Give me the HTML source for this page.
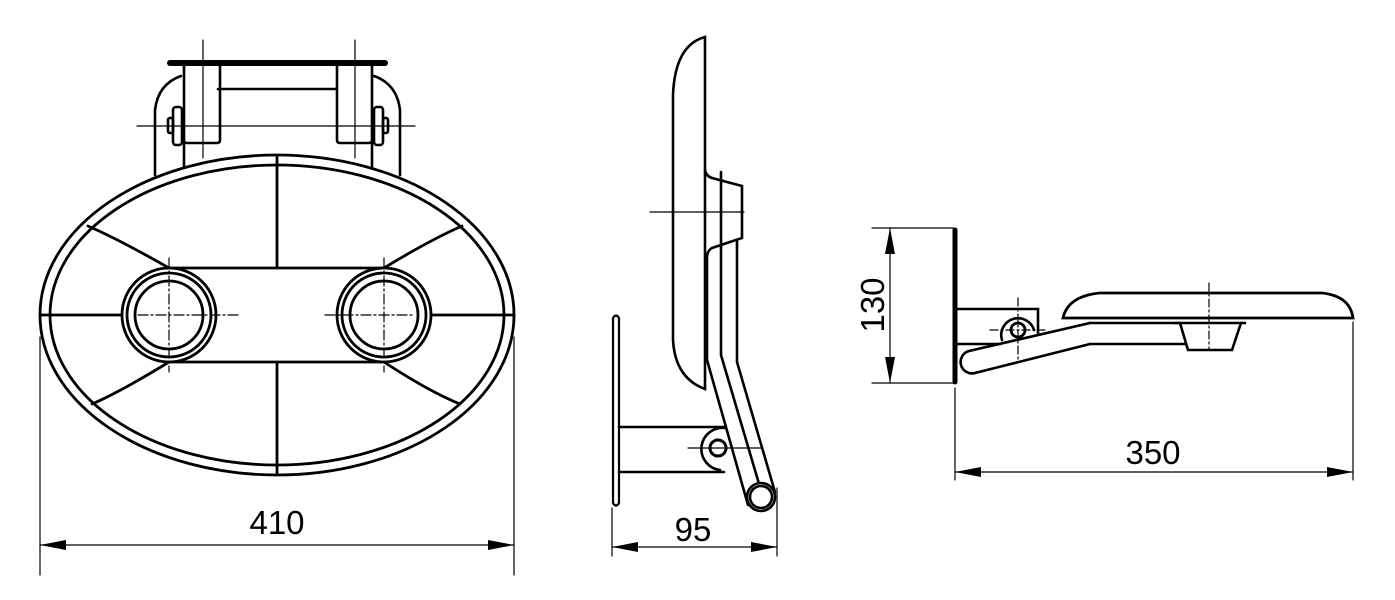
<!DOCTYPE html>
<html><head><meta charset="utf-8"><style>
html,body{margin:0;padding:0;background:#fff;}
svg{display:block;}
text{font-family:"Liberation Sans",sans-serif;font-size:33px;fill:#000;}
</style></head><body>
<svg width="1395" height="600" viewBox="0 0 1395 600" xmlns="http://www.w3.org/2000/svg" fill="none" stroke="#000" stroke-width="2.6" stroke-linecap="round">
<!-- VIEW 1 -->
<g>
<line x1="170" y1="63" x2="385" y2="63" stroke-width="6"/>
<path d="M184 66 V140 Q184 143 187 143 H217 Q220 143 220 140 V66"/>
<path d="M337 66 V140 Q337 143 340 143 H369 Q372 143 372 140 V66"/>
<line x1="218" y1="89" x2="336" y2="89"/>
<path d="M155 175 V110 Q158 84 181 76"/>
<path d="M400 175 V110 Q397 84 374 76"/>
<line x1="184" y1="143" x2="184" y2="168"/>
<line x1="372" y1="143" x2="372" y2="168"/>
<rect x="173" y="107" width="9" height="38" rx="3"/>
<rect x="168" y="118" width="5" height="15" rx="2"/>
<rect x="374" y="107" width="9" height="38" rx="3"/>
<rect x="383" y="118" width="5" height="15" rx="2"/>
<line x1="137" y1="126" x2="415" y2="126" stroke-width="1.2"/>
<line x1="203" y1="40" x2="203" y2="158" stroke-width="1.2"/>
<line x1="355" y1="40" x2="355" y2="158" stroke-width="1.2"/>
<ellipse cx="277" cy="315" rx="237" ry="160" fill="#fff" stroke-width="2.8"/>
<ellipse cx="277" cy="315" rx="227" ry="150" stroke-width="2.8"/>
<line x1="277" y1="157" x2="277" y2="268" stroke-width="2.8"/>
<line x1="277" y1="362" x2="277" y2="473" stroke-width="2.8"/>
<line x1="169" y1="268" x2="384" y2="268" stroke-width="2.8"/>
<line x1="169" y1="362" x2="384" y2="362" stroke-width="2.8"/>
<line x1="40" y1="315" x2="122" y2="315" stroke-width="2.8"/>
<line x1="432" y1="315" x2="514" y2="315" stroke-width="2.8"/>
<path d="M169 268 Q120 240 88 226" stroke-width="2.8"/>
<path d="M384 268 Q430 240 462 226" stroke-width="2.8"/>
<path d="M169 362 Q120 392 92 404" stroke-width="2.8"/>
<path d="M384 362 Q430 392 460 404" stroke-width="2.8"/>
<g stroke-width="2.8" fill="#fff">
<circle cx="169" cy="315" r="47"/><circle cx="169" cy="315" r="42"/><circle cx="169" cy="315" r="34"/>
<circle cx="384" cy="315" r="47"/><circle cx="384" cy="315" r="42"/><circle cx="384" cy="315" r="34"/>
</g>
<g stroke-width="1.2" stroke-dasharray="10,3,2,3">
<line x1="138" y1="315" x2="240" y2="315"/><line x1="169" y1="258" x2="169" y2="372"/>
<line x1="325" y1="315" x2="415" y2="315"/><line x1="384" y1="258" x2="384" y2="372"/>
</g>
<line x1="40" y1="337" x2="40" y2="575" stroke-width="1.2"/>
<line x1="514" y1="337" x2="514" y2="575" stroke-width="1.2"/>
<line x1="40" y1="545" x2="514" y2="545" stroke-width="1.2"/>
<path d="M40 545 L66 540 L66 550 Z M514 545 L488 540 L488 550 Z" fill="#000" stroke="none"/>
<text x="277" y="534" text-anchor="middle" stroke="none">410</text>
</g>
<!-- VIEW 2 -->
<g>
<path d="M613 318 Q616 313 619 318 V503 Q616 508 613 503 Z" stroke-width="2.2"/>
<path d="M705 37 Q675 45 673 95 V340 Q675 378 705 389 Z"/>
<path d="M705 170 Q706 176 712 178 L742 186 V238 L712 248 Q708 250 707 256"/>
<path d="M707 256 V360 L748 505"/>
<path d="M721 172 V355 L762 494"/>
<path d="M737 240 V362 L775 492"/>
<circle cx="761" cy="497" r="14" fill="#fff"/>
<circle cx="761" cy="497" r="11"/>
<line x1="619" y1="427" x2="724" y2="427"/>
<line x1="619" y1="472" x2="724" y2="472"/>
<path d="M725 428 A21 21 0 0 0 720 470" fill="#fff"/>
<circle cx="718" cy="448" r="8" stroke-width="3"/>
<line x1="688" y1="448" x2="762" y2="448" stroke-width="1.2"/>
<line x1="650" y1="212" x2="744" y2="212" stroke-width="1.2"/>
<line x1="612" y1="508" x2="612" y2="556" stroke-width="1.2"/>
<line x1="777" y1="488" x2="777" y2="556" stroke-width="1.2"/>
<line x1="612" y1="547" x2="777" y2="547" stroke-width="1.2"/>
<path d="M612 547 L638 542 L638 552 Z M777 547 L751 542 L751 552 Z" fill="#000" stroke="none"/>
<text x="693" y="541" text-anchor="middle" stroke="none">95</text>
</g>
<!-- VIEW 3 -->
<g>
<line x1="955" y1="230" x2="955" y2="382" stroke-width="5"/>
<line x1="872" y1="228" x2="953" y2="228" stroke-width="1.2"/>
<line x1="872" y1="383" x2="953" y2="383" stroke-width="1.2"/>
<line x1="890" y1="228" x2="890" y2="383" stroke-width="1.2"/>
<path d="M890 228 L885 254 L895 254 Z M890 383 L885 357 L895 357 Z" fill="#000" stroke="none"/>
<text transform="translate(884 305) rotate(-90)" text-anchor="middle" stroke="none">130</text>
<line x1="955" y1="388" x2="955" y2="480" stroke-width="1.2"/>
<line x1="1353" y1="322" x2="1353" y2="480" stroke-width="1.2"/>
<line x1="955" y1="472" x2="1353" y2="472" stroke-width="1.2"/>
<path d="M955 472 L981 467 L981 477 Z M1353 472 L1327 467 L1327 477 Z" fill="#000" stroke="none"/>
<text x="1153" y="464" text-anchor="middle" stroke="none">350</text>
<path d="M958 309 H1038 V333"/>
<line x1="958" y1="344" x2="1000" y2="344"/>
<path d="M1090 323 H1180"/>
<path d="M1090 344 H1185"/>
<path d="M1090 323 L969 351 A11 11 0 0 0 975 373 L1090 344"/>
<path d="M1002 340 A16 16 0 1 1 1034 330"/>
<circle cx="1018" cy="330" r="7" stroke-width="2.8"/>
<g stroke-width="1.2" stroke-dasharray="8,3,2,3">
<line x1="990" y1="330" x2="1045" y2="330"/><line x1="1018" y1="298" x2="1018" y2="362"/>
<line x1="1209" y1="283" x2="1209" y2="350"/>
</g>
<path d="M1063 318 Q1068 296 1100 293 H1322 Q1350 296 1353 318 Z" stroke-width="2.8"/>
<path d="M1180 323 L1188 350 H1232 L1241 323" />
<line x1="1175" y1="323" x2="1245" y2="323"/>
</g>
</svg>
</body></html>
